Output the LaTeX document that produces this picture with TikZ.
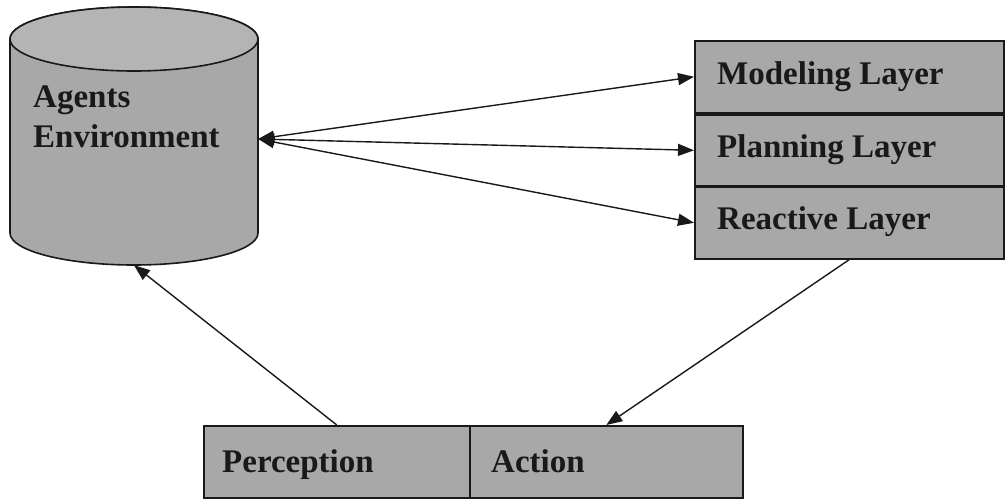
\documentclass[tikz,border=0pt]{standalone}
\usepackage{fontspec}
\setmainfont{Liberation Serif}
\usetikzlibrary{arrows.meta}
\definecolor{texfill}{RGB}{168,168,168}
\definecolor{texlight}{RGB}{180,180,180}
\definecolor{inkdark}{RGB}{25,25,25}
\begin{document}
\begin{tikzpicture}[x=1pt,y=-1pt,
  panel/.style={rectangle, draw=inkdark, line width=1.6pt, fill=texfill,
    inner sep=0pt, anchor=north west},
  lbl/.style={font=\fontsize{33}{40}\selectfont\bfseries, text=inkdark,
    anchor=base west, inner sep=0pt},
  link/.style={draw=inkdark, line width=1.4pt, -{Triangle[length=16pt,width=12pt]}},
  duallink/.style={draw=inkdark, line width=1.4pt,
    {Triangle[length=16pt,width=12pt]}-{Triangle[length=16pt,width=12pt]}}]
  \useasboundingbox (0,0) rectangle (1005,499);

  % environment cylinder
  \node[rectangle, minimum width=248pt, minimum height=258pt, inner sep=0pt] (env) at (134,136) {};
  \path[draw=inkdark, line width=1.6pt, fill=texfill]
    (10,39) -- (10,233) arc[start angle=180, end angle=0, x radius=124, y radius=32]
    -- (258,39) arc[start angle=0, end angle=-180, x radius=124, y radius=32] -- cycle;
  \draw[inkdark, line width=1.6pt, fill=texlight] (134,39) ellipse [x radius=124, y radius=32];
  \node[lbl] (agents) at (33,107) {Agents};
  \node[lbl] (environ) at (33,147) {Environment};

  % layer stack
  \node[panel, minimum width=309pt, minimum height=72pt] (model) at (694,40) {};
  \node[panel, minimum width=309pt, minimum height=71pt] (plan) at (694,114) {};
  \node[panel, minimum width=309pt, minimum height=72pt] (react) at (694,186) {};
  \node[lbl] (modelT) at (717,84) {Modeling Layer};
  \node[lbl] (planT) at (717,157) {Planning Layer};
  \node[lbl] (reactT) at (717,229) {Reactive Layer};

  % perception / action
  \node[panel, minimum width=266pt, minimum height=72pt] (perc) at (203,425) {};
  \node[panel, minimum width=273pt, minimum height=72pt] (act) at (469,425) {};
  \node[lbl] (percT) at (222,472) {Perception};
  \node[lbl] (actT) at (491,472) {Action};

  % connectors
  \draw[duallink] ([yshift=-3pt]env.east) -- (model.west);
  \draw[duallink] ([yshift=-3pt]env.east) -- (plan.west);
  \draw[duallink] ([yshift=-3pt]env.east) -- (react.west);
  \draw[link] (react.south) -- (act.north);
  \draw[link] (perc.north) -- (env.south);
\end{tikzpicture}
\end{document}
